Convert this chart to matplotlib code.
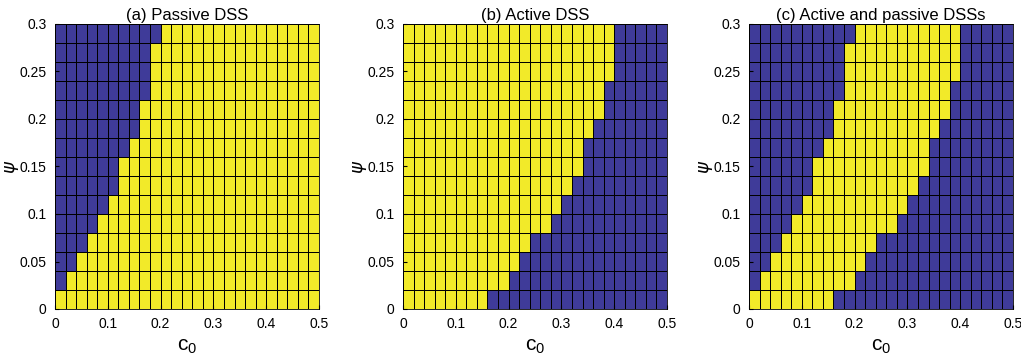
import numpy as np
import matplotlib.pyplot as plt

plt.rcParams['font.family'] = ['Liberation Sans', 'DejaVu Sans']

# grid of c0 and psi cell edges
c0_edges = np.linspace(0, 0.5, 26)
psi_edges = np.linspace(0, 0.3, 16)

# per psi row (bottom to top): c0 where the passive DSS starts to exist
passive_edge = [0.00, 0.02, 0.04, 0.06, 0.08, 0.10, 0.12, 0.12,
                0.14, 0.16, 0.16, 0.18, 0.18, 0.18, 0.20]
# per psi row (bottom to top): c0 where the active DSS stops existing
active_edge = [0.16, 0.20, 0.22, 0.24, 0.28, 0.30, 0.32, 0.34,
               0.34, 0.36, 0.38, 0.38, 0.40, 0.40, 0.40]

titles = ['(a) Passive DSS', '(b) Active DSS', '(c) Active and passive DSSs']

blue = '#3f3b99'
yellow = '#f2ea29'

c0_mid = 0.5 * (c0_edges[:-1] + c0_edges[1:])
passive = np.array([c0_mid > e for e in passive_edge])
active = np.array([c0_mid < e for e in active_edge])
both = passive & active
grids = [passive, active, both]

fig = plt.figure(figsize=(10.21, 3.55), dpi=100)
lefts = [55, 403, 749]
cmap = plt.matplotlib.colors.ListedColormap([blue, yellow])

for left, z, title in zip(lefts, grids, titles):
    ax = fig.add_axes([left / 1021, 1 - 309 / 355, 264 / 1021, 285 / 355])
    ax.pcolormesh(c0_edges, psi_edges, z.astype(float), cmap=cmap, vmin=0, vmax=1,
                  edgecolors='black', linewidth=0.6)
    ax.set_xlim(0, 0.5)
    ax.set_ylim(0, 0.3)
    ax.set_xticks([0, 0.1, 0.2, 0.3, 0.4, 0.5])
    ax.set_xticklabels(['0', '0.1', '0.2', '0.3', '0.4', '0.5'])
    ax.set_yticks([0, 0.05, 0.1, 0.15, 0.2, 0.25, 0.3])
    ax.set_yticklabels(['0', '0.05', '0.1', '0.15', '0.2', '0.25', '0.3'])
    ax.tick_params(direction='in', length=3, labelsize=10, pad=6)
    ax.set_title(title, fontsize=12, pad=3)
    ax.set_xlabel('$\\mathregular{c_0}$', fontsize=15, labelpad=4)
    ax.set_ylabel('$\\psi$', fontsize=13)
    ax.yaxis.set_label_coords(-0.13, 0.5)
    for s in ax.spines.values():
        s.set_linewidth(0.6)

fig.savefig('out.png', dpi=100)
